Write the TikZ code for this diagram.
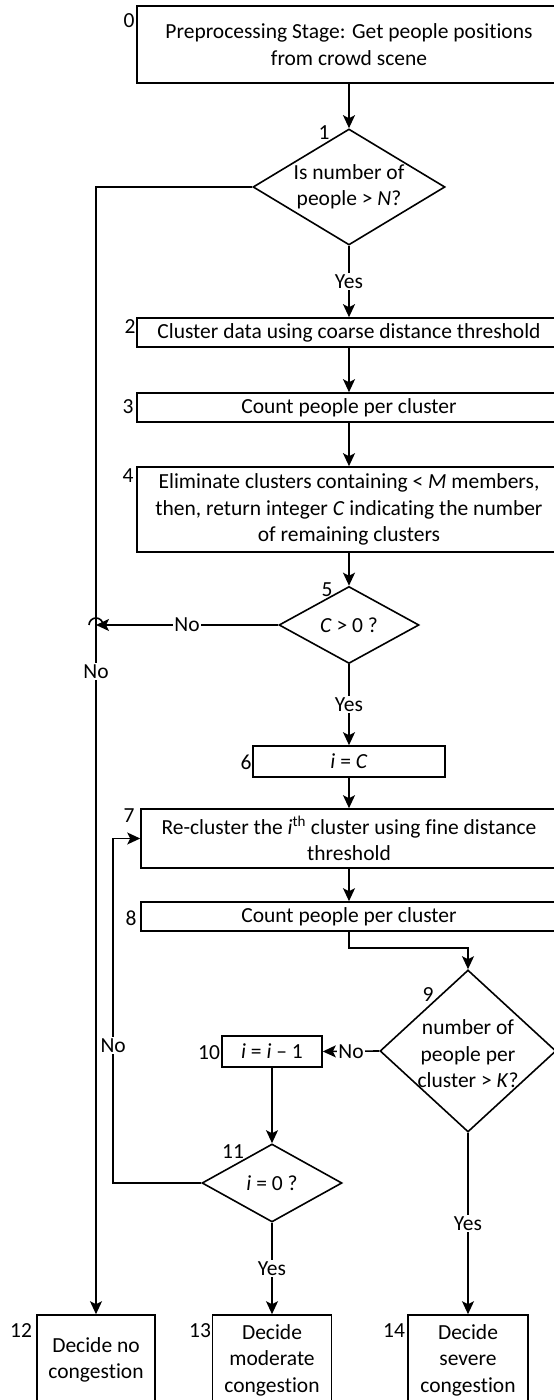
\documentclass[tikz,border=0pt]{standalone}
\usepackage{fontspec}
\setmainfont{Carlito}[Ligatures={TeX, NoCommon}]
\usetikzlibrary{arrows.meta, shapes.geometric, positioning}

\begin{document}
\begin{tikzpicture}[x=1pt, y=1pt, line width=1.6pt,
    >={Stealth[length=13pt, width=12pt, inset=3pt]},
    font=\fontsize{21.5}{26.5}\selectfont,
    stepbox/.style={draw, rectangle, align=center, inner sep=0pt},
    decision/.style={draw, diamond, inner sep=0pt},
    num/.style={inner sep=0pt},
    answer/.style={fill=white, inner sep=1.5pt}]
\clip (0, 0) rectangle (554, 1400);

% steps and decisions
\node[stepbox, minimum width=424, minimum height=77] (s0) at (349, 1355.5)
    {Preprocessing Stage: Get people positions\\from crowd scene};
\node[decision, minimum width=192, minimum height=116] (d1) at (349, 1213) {};
\node[align=center] (q1) at (d1) {Is number of\\people > \textit{N}?};
\node[stepbox, minimum width=424, minimum height=29] (s2) at (349, 1067.5)
    {Cluster data using coarse distance threshold};
\node[stepbox, minimum width=424, minimum height=29] (s3) at (349, 992.5)
    {Count people per cluster};
\node[stepbox, minimum width=424, minimum height=85] (s4) at (349, 890.5)
    {Eliminate clusters containing < \textit{M} members,\\then, return integer \textit{C} indicating the number\\of remaining clusters};
\node[decision, minimum width=140, minimum height=77] (d5) at (349, 775) {};
\node (q5) at (d5) {\textit{C} > 0 ?};
\node[stepbox, minimum width=192, minimum height=31] (s6) at (349, 638.5) {\textit{i} = \textit{C}};
\node[stepbox, minimum width=416, minimum height=59] (s7) at (349, 561.5)
    {Re-cluster the \textit{i}\textsuperscript{th} cluster using fine distance\\threshold};
\node[stepbox, minimum width=416, minimum height=29] (s8) at (349, 483.5)
    {Count people per cluster};
\node[decision, minimum width=176, minimum height=162] (d9) at (468, 349) {};
\node[align=center] (q9) at ([yshift=-3]d9) {number of\\people per\\cluster > \textit{K}?};
\node[stepbox, minimum width=100, minimum height=31] (s10) at (272, 348.5)
    {\textit{i} = \textit{i} -- 1};
\node[decision, minimum width=140, minimum height=78] (d11) at (272, 217) {};
\node (q11) at (d11) {\textit{i} = 0 ?};
\node[stepbox, minimum width=118, minimum height=90] (s12) at (96, 40) {Decide no\\congestion};
\node[stepbox, minimum width=119, minimum height=90] (s13) at (272, 40) {Decide\\moderate\\congestion};
\node[stepbox, minimum width=120, minimum height=90] (s14) at (468, 40) {Decide\\severe\\congestion};

% step numbers
\node[num] (n0) at (129, 1379) {0};
\node[num] (n1) at (324, 1267) {1};
\node[num] (n2) at (130, 1073) {2};
\node[num] (n3) at (128, 993) {3};
\node[num] (n4) at (128, 924) {4};
\node[num] (n5) at (327, 810) {5};
\node[num] (n6) at (246, 638) {6};
\node[num] (n7) at (129, 584) {7};
\node[num] (n8) at (131, 482) {8};
\node[num] (n9) at (428, 405) {9};
\node[num] (n10) at (209, 347) {10};
\node[num] (n11) at (233, 248) {11};
\node[num] (n12) at (21, 69) {12};
\node[num] (n13) at (200, 69) {13};
\node[num] (n14) at (394, 69) {14};

% connectors
\draw[->] (s0) -- (d1);
\draw[->] (d1) -- node[answer] (y1) {Yes} (s2);
\draw[->] (d1.west) -| node[answer, pos=0.715] (no1) {No} (s12.north);
\draw[->] (s2) -- (s3);
\draw[->] (s3) -- (s4);
\draw[->] (s4) -- (d5);
\coordinate (jn) at (96, 775);
\draw[->] (d5.west) -- node[answer] (no5) {No} (jn);
\draw (103, 775) arc[start angle=0, end angle=180, radius=7];
\draw[->] (d5) -- node[answer] (y5) {Yes} (s6);
\draw[->] (s6) -- (s7);
\draw[->] (s7) -- (s8);
\draw[->] (s8.south) -- ++(0, -16) -| (d9.north);
\draw[->] (d9.west) -- node[answer] (no9) {No} (s10.east);
\draw[->] (s10) -- (d11);
\draw[->] (d11.west) -- ++(-88, 0) |- node[answer, pos=0.2] (no11) {No} (s7.west);
\draw[->] (d11) -- node[answer] (y11) {Yes} (s13);
\draw[->] (d9) -- node[answer] (y9) {Yes} (s14);
\end{tikzpicture}
\end{document}
